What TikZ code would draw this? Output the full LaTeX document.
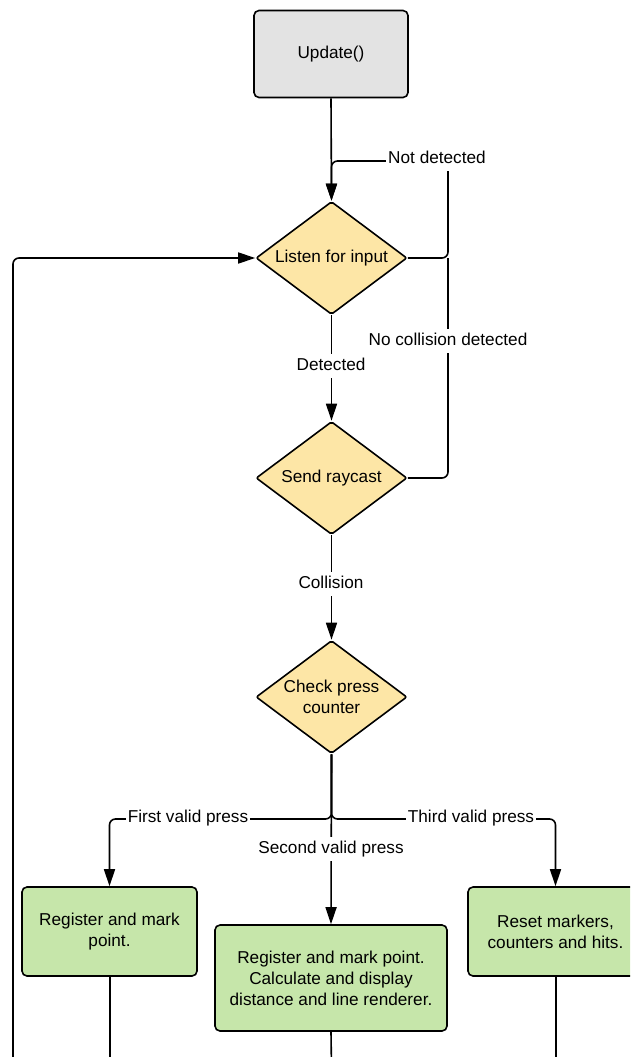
\documentclass[tikz,border=0pt]{standalone}
\usepackage{fontspec}
\setmainfont{Liberation Sans}
\usetikzlibrary{shapes.geometric,arrows.meta}
\definecolor{dfill}{HTML}{FDE6A6}
\definecolor{gfill}{HTML}{C6E6AA}
\definecolor{ufill}{HTML}{E3E3E3}
\begin{document}
\begin{tikzpicture}[x=1pt,y=-1pt,
  every node/.style={font=\fontsize{17.2}{21}\selectfont},
  line/.style={line width=1.6pt, rounded corners=6pt},
  arr/.style={line, -{Triangle[length=17pt,width=11pt]}},
  dec/.style={diamond, aspect=1.336, draw, line width=1.6pt, fill=dfill, minimum width=151pt, minimum height=113pt, inner sep=0pt, align=center, rounded corners=2pt},
  box/.style={draw, line width=1.6pt, rounded corners=5pt, align=center, inner sep=0pt},
  lbl/.style={fill=white, inner xsep=2pt, inner ysep=4pt, text height=12pt, text depth=3.5pt}
]
\useasboundingbox (0,0) rectangle (630,1057);
\clip (0,0) rectangle (630,1057);

\node[box, fill=ufill, minimum width=154pt, minimum height=87pt] (upd) at (331,54) {Update()};
\node[dec] (listen) at (331.5,258) {Listen for input};
\node[dec] (ray) at (331.5,478) {Send raycast};
\node[dec] (check) at (331.5,697) {Check press\\counter};
\node[box, fill=gfill, minimum width=175pt, minimum height=89pt] (b1) at (109.5,931.5) {Register and mark\\point.};
\node[box, fill=gfill, minimum width=232pt, minimum height=106pt] (b2) at (331,978) {Register and mark point.\\Calculate and display\\distance and line renderer.};
\node[box, fill=gfill, minimum width=175pt, minimum height=89pt] (b3) at (555.5,931.5) {Reset markers,\\counters and hits.};

\coordinate (e1) at (110,1070);
\coordinate (e2) at (331.5,1070);
\coordinate (e3) at (556,1070);
\coordinate (loop) at (13,1070);
\coordinate (jr) at (448,258);
\coordinate (jt) at (448,161);
\coordinate (jl) at (331.5,161);
\coordinate (jc) at (331.5,819);

\draw[arr] (upd.south) -- (listen.north);
\draw[arr] (listen.east) -- (jr) -- (jt) -- (jl) -- (listen.north);
\draw[line] (ray.east) -- (448,478) -- (jr);
\draw[arr] (listen.south) -- (ray.north);
\draw[arr] (ray.south) -- (check.north);
\draw[arr] (check.south) -- (b2.north);
\draw[arr] (check.south) -- (jc) -| (b1.north);
\draw[arr] (check.south) -- (jc) -| (b3.north);
\draw[line] (b1.south -| e1) -- (e1);
\draw[line] (b2.south) -- (e2);
\draw[line] (b3.south -| e3) -- (e3);
\draw[arr] (loop) |- (listen.west);

\node[lbl] (l1) at (437,159) {Not detected};
\node[lbl] (l2) at (448,341) {No collision detected};
\node[lbl] (l3) at (331,366) {Detected};
\node[lbl] (l4) at (331,584) {Collision};
\node[lbl] (l5) at (331,849) {Second valid press};
\node[lbl] (l6) at (188,818) {First valid press};
\node[lbl] (l7) at (471,818) {Third valid press};
\end{tikzpicture}
\end{document}
